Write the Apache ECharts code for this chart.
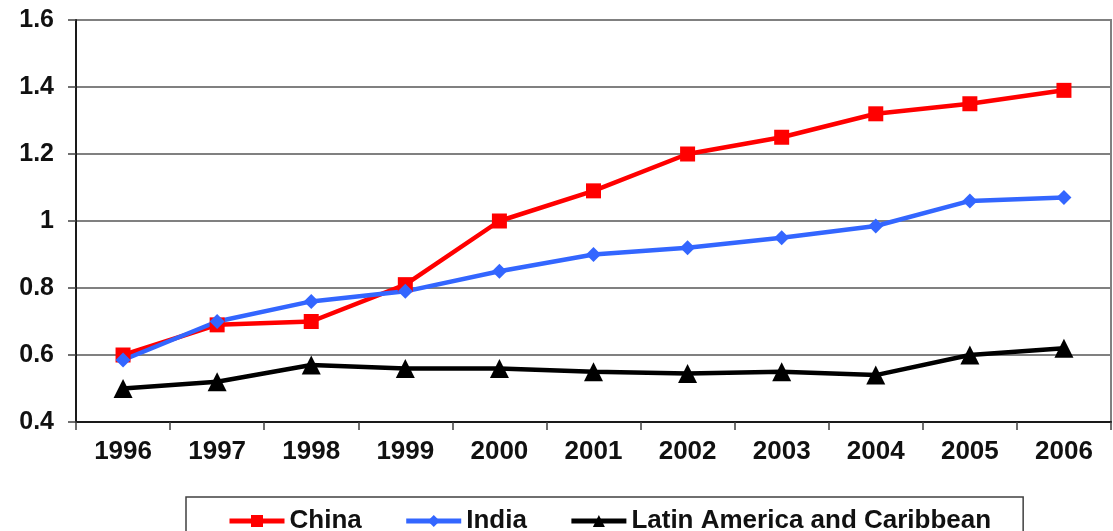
<!DOCTYPE html>
<html>
<head>
<meta charset="utf-8">
<script src="https://cdn.jsdelivr.net/npm/echarts@6/dist/echarts.min.js"></script>
<style>
  html, body { margin: 0; padding: 0; background: #ffffff; }
  #chart { width: 1113px; height: 531px; }
</style>
</head>
<body>
<div id="chart"></div>
<script>
// Years on the category axis
const years = ['1996', '1997', '1998', '1999', '2000', '2001', '2002', '2003', '2004', '2005', '2006'];

// Series values
const china = [0.60, 0.69, 0.70, 0.81, 1.00, 1.09, 1.20, 1.25, 1.32, 1.35, 1.39];
const india = [0.585, 0.70, 0.76, 0.79, 0.85, 0.90, 0.92, 0.95, 0.985, 1.06, 1.07];
const latinAmerica = [0.50, 0.52, 0.57, 0.56, 0.56, 0.55, 0.545, 0.55, 0.54, 0.60, 0.62];

// Value axis range
const yMin = 0.4;
const yMax = 1.6;
const yStep = 0.2;

const font = '"Liberation Sans", Arial, sans-serif';

const chart = echarts.init(document.getElementById('chart'), null, { renderer: 'canvas' });

function lineSeries(name, data, color, symbol, size) {
  return {
    name: name,
    type: 'line',
    data: data,
    symbol: symbol,
    symbolSize: size,
    showAllSymbol: true,
    lineStyle: { color: color, width: 4.5 },
    itemStyle: { color: color },
    emphasis: { disabled: true },
    animation: false
  };
}

chart.setOption({
  animation: false,
  backgroundColor: '#ffffff',
  grid: {
    left: 76, right: 2, top: 20, bottom: 109,
    show: true,
    borderColor: '#808080',
    borderWidth: 2,
    containLabel: false
  },
  legend: {
    left: 186,
    top: 497,
    orient: 'horizontal',
    itemWidth: 55,
    itemHeight: 15,
    itemGap: 42,
    padding: [11, 32, 30, 41],
    borderColor: '#404040',
    borderWidth: 1.5,
    backgroundColor: '#ffffff',
    lineStyle: { width: 5 },
    textStyle: { fontFamily: font, fontSize: 26, fontWeight: 'bold', color: '#111111' },
    data: ['China', 'India', 'Latin America and Caribbean']
  },
  xAxis: {
    type: 'category',
    data: years,
    boundaryGap: true,
    axisLine: { show: true, lineStyle: { color: '#1a1a1a', width: 2 } },
    axisTick: { show: true, inside: false, length: 8, lineStyle: { color: '#404040', width: 1.5 } },
    axisLabel: {
      fontFamily: font, fontSize: 26, fontWeight: 'bold', color: '#111111', margin: 17
    },
    splitLine: { show: false }
  },
  yAxis: {
    type: 'value',
    min: yMin,
    max: yMax,
    interval: yStep,
    axisLine: { show: true, lineStyle: { color: '#1a1a1a', width: 2 } },
    axisTick: { show: true, length: 8, lineStyle: { color: '#404040', width: 1.5 } },
    axisLabel: {
      fontFamily: font, fontSize: 25, fontWeight: 'bold', color: '#111111', margin: 22,
      formatter: function (v) { return String(parseFloat(v.toFixed(1))); }
    },
    splitLine: { show: true, lineStyle: { color: '#808080', width: 2 } }
  },
  series: [
    lineSeries('China', china, '#ff0000', 'rect', 15),
    lineSeries('India', india, '#3366ff', 'diamond', 15),
    lineSeries('Latin America and Caribbean', latinAmerica, '#000000', 'triangle', 19)
  ]
});
</script>
</body>
</html>
